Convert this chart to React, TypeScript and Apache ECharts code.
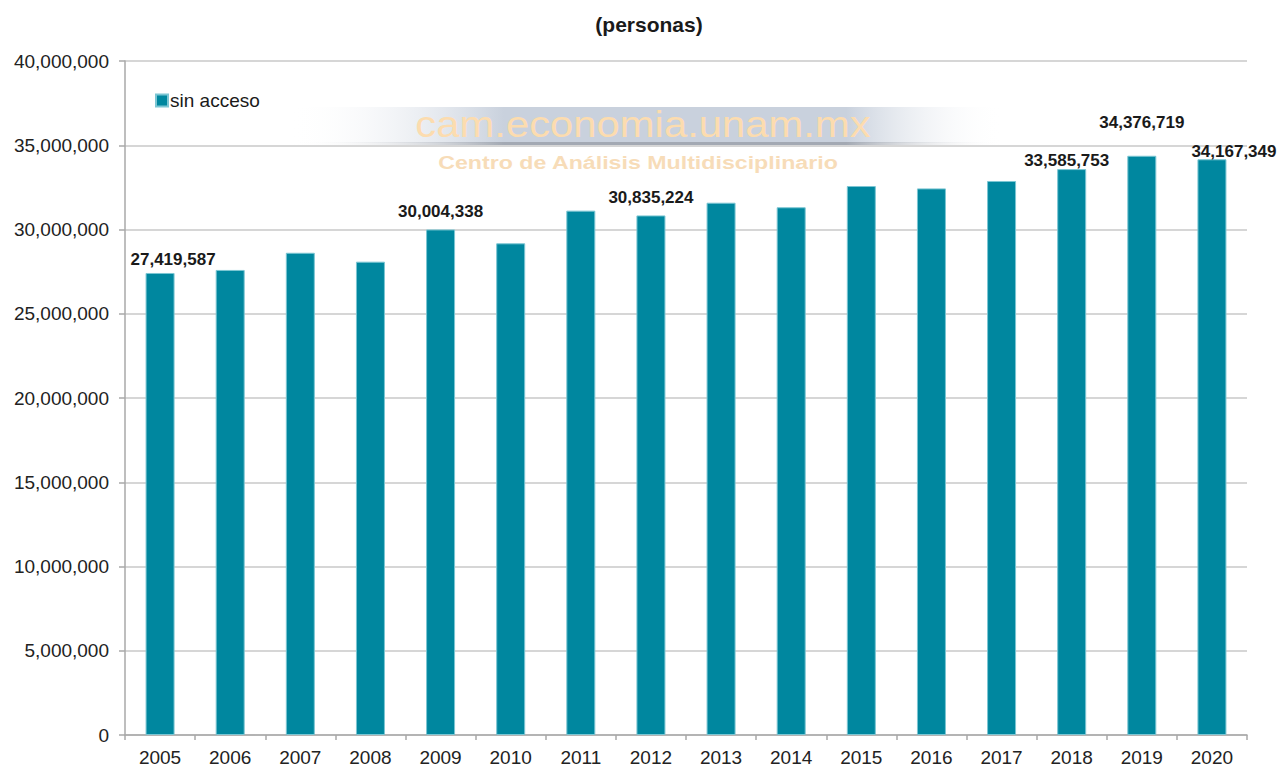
import React, { useEffect, useRef } from "react";
import * as echarts from "echarts";

const title = "(personas)";
const seriesName = "sin acceso";
const years = ["2005","2006","2007","2008","2009","2010","2011","2012","2013","2014","2015","2016","2017","2018","2019","2020"];
const values = [27419587, 27600000, 28620000, 28090000, 30004338, 29180000, 31120000, 30835224, 31590000, 31320000, 32580000, 32440000, 32880000, 33585753, 34376719, 34167349];
const labeledYears = ["2005", "2009", "2012", "2018", "2019", "2020"];
const yTicks = { min: 0, max: 40000000, interval: 5000000 };
const watermarkMain = "cam.economia.unam.mx";
const watermarkSub = "Centro de Análisis Multidisciplinario";

// label offsets (styling only)
const labelOffsets: Record<string, [number, number]> = {
  "2005": [13, 0],
  "2009": [0, -4],
  "2012": [0, -4],
  "2018": [-5, 5],
  "2019": [0, -20],
  "2020": [22, 6],
};

const fmt = (v: number) => v.toLocaleString("en-US");

export default function App() {
  const ref = useRef<HTMLDivElement>(null);
  useEffect(() => {
    if (!ref.current) return;
    const chart = echarts.init(ref.current, undefined, { renderer: "svg" });
    const font = "Arial, 'Liberation Sans', sans-serif";
    const data = values.map((v, i) => {
      const y = years[i];
      if (labeledYears.includes(y)) {
        return {
          value: v,
          label: {
            show: true,
            position: "top",
            distance: 5,
            offset: labelOffsets[y] || [0, 0],
            formatter: (p: any) => fmt(p.value),
            fontFamily: font,
            fontWeight: "bold",
            fontSize: 17,
            color: "#1a1a1a",
          },
        };
      }
      return { value: v };
    });
    chart.setOption({
      animation: false,
      backgroundColor: "#ffffff",
      title: {
        text: title,
        left: 644,
        top: 9,
        textAlign: "center",
        textStyle: { fontFamily: font, fontWeight: "bold", fontSize: 21, color: "#1a1a1a" },
      },
      legend: {
        data: [seriesName],
        left: 150,
        top: 86,
        icon: "rect",
        itemWidth: 12,
        itemHeight: 12,
        textStyle: { fontFamily: font, fontSize: 19, color: "#1a1a1a", padding: [0, 0, 0, -3] },
      },
      grid: { left: 125, right: 40, top: 61, bottom: 34, containLabel: false },
      graphic: [
        {
          type: "rect",
          z: 0,
          silent: true,
          shape: { x: 290, y: 107, width: 713, height: 36 },
          style: {
            fill: new echarts.graphic.LinearGradient(0, 0, 1, 0, [
              { offset: 0, color: "rgba(255,255,255,0)" },
              { offset: 0.3, color: "#c9d1dd" },
              { offset: 0.78, color: "#c9d1dd" },
              { offset: 1, color: "rgba(255,255,255,0)" },
            ]),
          },
        },
        {
          type: "rect",
          z: 0,
          silent: true,
          shape: { x: 290, y: 142, width: 713, height: 3 },
          style: {
            fill: new echarts.graphic.LinearGradient(0, 0, 1, 0, [
              { offset: 0, color: "rgba(255,255,255,0)" },
              { offset: 0.3, color: "#a3a9b3" },
              { offset: 0.78, color: "#a3a9b3" },
              { offset: 1, color: "rgba(255,255,255,0)" },
            ]),
          },
        },
        {
          type: "text",
          z: 1,
          silent: true,
          x: 643,
          y: 142,
          scaleX: 1.13,
          style: {
            text: watermarkMain,
            textAlign: "center",
            textVerticalAlign: "bottom",
            fontFamily: font,
            fontSize: 37,
            fill: "#fcdcaf",
          },
        },
        {
          type: "text",
          z: 1,
          silent: true,
          x: 638,
          y: 162,
          scaleX: 1.22,
          style: {
            text: watermarkSub,
            textAlign: "center",
            textVerticalAlign: "middle",
            fontFamily: font,
            fontWeight: "bold",
            fontSize: 19,
            fill: "#f7dcb8",
            shadowColor: "rgba(0,0,0,0.25)",
            shadowBlur: 3,
            shadowOffsetX: 1,
            shadowOffsetY: 1,
          },
        },
      ],
      xAxis: {
        type: "category",
        data: years,
        axisLine: { show: true, lineStyle: { color: "#a8a8a8", width: 1.5 } },
        axisTick: { show: true, length: 5, lineStyle: { color: "#a8a8a8", width: 1.5 } },
        axisLabel: { fontFamily: font, fontSize: 19, color: "#222", margin: 13 },
      },
      yAxis: {
        type: "value",
        min: yTicks.min,
        max: yTicks.max,
        interval: yTicks.interval,
        axisLine: { show: true, lineStyle: { color: "#a8a8a8", width: 1.5 } },
        axisTick: { show: true, length: 6, lineStyle: { color: "#a8a8a8", width: 1.5 } },
        axisLabel: { fontFamily: font, fontSize: 19, color: "#222", margin: 16, formatter: (v: number) => fmt(v) },
        splitLine: { show: true, lineStyle: { color: "#c8c8c8", width: 1.5 } },
      },
      series: [
        {
          name: seriesName,
          type: "bar",
          data,
          barWidth: 29,
          z: 3,
          itemStyle: { color: "#00879f", borderColor: "#7cc6d3", borderWidth: 1 },
        },
      ],
    });
    return () => chart.dispose();
  }, []);
  return <div ref={ref} style={{ width: 1287, height: 769, position: "absolute", left: 0, top: 0 }} />;
}
